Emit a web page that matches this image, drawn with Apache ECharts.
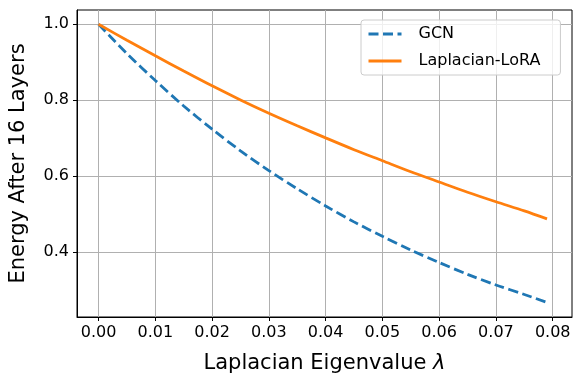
<!DOCTYPE html>
<html>
<head>
<meta charset="utf-8">
<script src="https://cdn.jsdelivr.net/npm/echarts@6/dist/echarts.min.js"></script>
<style>
  html, body { margin: 0; padding: 0; background: #fff; }
  #chart { width: 582px; height: 384px; }
</style>
</head>
<body>
<div id="chart"></div>
<script>
// values
const lambdas = [0, 0.005, 0.01, 0.015, 0.02, 0.025, 0.03, 0.035, 0.04, 0.045, 0.05, 0.055, 0.06, 0.065, 0.07, 0.075, 0.079]
const gcn = [1.0, 0.923, 0.852, 0.785, 0.724, 0.667, 0.615, 0.567, 0.522, 0.480, 0.442, 0.406, 0.373, 0.342, 0.314, 0.289, 0.268]
const lora = [1.0, 0.958, 0.917, 0.877, 0.838, 0.801, 0.766, 0.733, 0.701, 0.670, 0.641, 0.612, 0.585, 0.558, 0.533, 0.509, 0.488]
const xTicks = [0, 0.01, 0.02, 0.03, 0.04, 0.05, 0.06, 0.07, 0.08]
const yTicks = [0.4, 0.6, 0.8, 1.0]

const font = 'DejaVu Sans'
const gridColor = '#b0b0b0'

const chart = echarts.init(document.getElementById('chart'))

const option = {
  animation: false,
  backgroundColor: '#fff',
  grid: {
    left: 74,
    top: 10,
    right: 10,
    bottom: 67,
    show: true,
    borderColor: '#000',
    borderWidth: 1
  },
  legend: {
    orient: 'vertical',
    left: 361,
    top: 20,
    padding: [6, 20, 6, 6],
    backgroundColor: 'rgba(255,255,255,0.8)',
    borderColor: '#cccccc',
    borderWidth: 1,
    borderRadius: 3,
    itemWidth: 33,
    itemHeight: 14,
    itemGap: 11,
    itemStyle: { opacity: 0 },
    lineStyle: { width: 3 },
    textStyle: { fontFamily: font, fontSize: 16, color: '#000', padding: [0, 0, 0, 12] },
    data: ['GCN', 'Laplacian-LoRA']
  },
  xAxis: {
    type: 'value',
    min: -0.0038,
    max: 0.0834,
    name: 'Laplacian Eigenvalue {i|λ}',
    nameLocation: 'middle',
    nameGap: 36,
    nameTextStyle: {
      fontFamily: font, fontSize: 21, color: '#000',
      rich: { i: { fontFamily: font, fontSize: 21, fontStyle: 'italic', color: '#000' } }
    },
    axisLine: { show: true, onZero: false, lineStyle: { color: '#000' } },
    axisTick: { show: true, length: 4, customValues: xTicks, lineStyle: { color: '#000' } },
    axisLabel: {
      customValues: xTicks,
      fontFamily: font, fontSize: 16, color: '#000', margin: 8,
      formatter: v => v.toFixed(2)
    },
    splitLine: { show: true, lineStyle: { color: gridColor, width: 1 } }
  },
  yAxis: {
    type: 'value',
    min: 0.2297,
    max: 1.0376,
    name: 'Energy After 16 Layers',
    nameLocation: 'middle',
    nameRotate: 90,
    nameGap: 48,
    nameTextStyle: { fontFamily: font, fontSize: 21, color: '#000' },
    axisLine: { show: true, onZero: false, lineStyle: { color: '#000' } },
    axisTick: { show: true, length: 4, customValues: yTicks, lineStyle: { color: '#000' } },
    axisLabel: {
      customValues: yTicks,
      fontFamily: font, fontSize: 16, color: '#000', margin: 8,
      formatter: v => v.toFixed(1)
    },
    splitLine: { show: true, lineStyle: { color: gridColor, width: 1 } }
  },
  series: [
    {
      name: 'GCN',
      type: 'line',
      showSymbol: false,
      symbol: 'none',
      smooth: 0.3,
      data: lambdas.map((x, i) => [x, gcn[i]]),
      itemStyle: { color: '#1f77b4' },
      lineStyle: { color: '#1f77b4', width: 2.8, type: [10, 4.5] }
    },
    {
      name: 'Laplacian-LoRA',
      type: 'line',
      showSymbol: false,
      symbol: 'none',
      smooth: 0.3,
      data: lambdas.map((x, i) => [x, lora[i]]),
      itemStyle: { color: '#ff7f0e' },
      lineStyle: { color: '#ff7f0e', width: 2.8 }
    }
  ]
}

chart.setOption(option)
</script>
</body>
</html>
